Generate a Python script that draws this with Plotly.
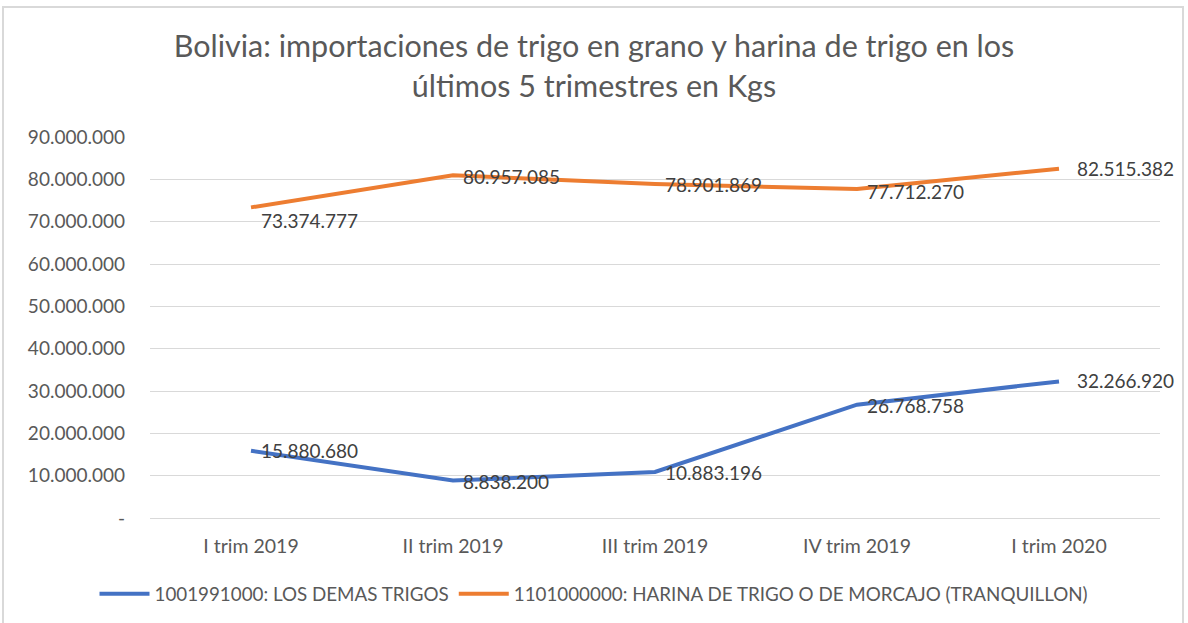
import plotly.graph_objects as go

categories = ["I trim 2019", "II trim 2019", "III trim 2019", "IV trim 2019", "I trim 2020"]
trigos = [15880680, 8838200, 10883196, 26768758, 32266920]
harina = [73374777, 80957085, 78901869, 77712270, 82515382]
series_names = ["1001991000: LOS DEMAS TRIGOS", "1101000000: HARINA DE TRIGO O DE MORCAJO (TRANQUILLON)"]
y_ticks = [0, 10000000, 20000000, 30000000, 40000000, 50000000, 60000000, 70000000, 80000000, 90000000]


def fmt(v):
    return f"{v:,}".replace(",", ".")


tick_text = ["-" if v == 0 else fmt(v) for v in y_ticks]
FONT = "Lato, 'Open Sans', sans-serif"
GRAY = "#595959"

fig = go.Figure()
fig.add_trace(go.Scatter(
    x=categories, y=trigos, name=series_names[0], mode="lines",
    line=dict(color="#4472C4", width=4),
))
fig.add_trace(go.Scatter(
    x=categories, y=harina, name=series_names[1], mode="lines",
    line=dict(color="#ED7D31", width=4),
))

# data labels
for series, yshifts in ((trigos, [0, -1, -1, -1, 1]), (harina, [-13, -1, -1, -2, 0])):
    for i, (c, v) in enumerate(zip(categories, series)):
        fig.add_annotation(x=c, y=v, text=fmt(v), showarrow=False,
                           xanchor="left", yanchor="middle",
                           xshift=16 if i == 4 else 8, yshift=yshifts[i],
                           font=dict(size=19, color="#404040", family=FONT))

L, R, T, B = 150, 28, 137, 105
W, H = 1188, 623
pw, ph = W - L - R, H - T - B

fig.update_layout(
    width=W, height=H,
    margin=dict(l=L, r=R, t=T, b=B),
    paper_bgcolor="white", plot_bgcolor="white",
    font=dict(family=FONT, color=GRAY, size=19),
    title=dict(text="Bolivia: importaciones de trigo en grano y harina de trigo en los<br>últimos 5 trimestres en Kgs",
               x=0.5, xref="container", xanchor="center", y=1 - 57 / H, yanchor="middle",
               font=dict(size=30.5, color=GRAY, family=FONT)),
    showlegend=True,
    legend=dict(orientation="h", x=0.5, xref="container", xanchor="center",
                y=1 - 594 / H, yref="container", yanchor="middle",
                font=dict(size=18.8, color=GRAY, family=FONT), itemwidth=50,
                traceorder="normal"),
    xaxis=dict(showgrid=False, showline=False, ticks="", tickfont=dict(size=19.5, color=GRAY),
               range=[-0.5, 4.5], ticklabelstandoff=14),
    yaxis=dict(range=[0, 90000000], tickvals=y_ticks, ticktext=tick_text,
               showgrid=True, gridcolor="#D9D9D9", gridwidth=1, zeroline=True,
               zerolinecolor="#D9D9D9", zerolinewidth=1, ticks="", ticklabelstandoff=24,
               tickfont=dict(size=19, color=GRAY)),
)

fig.add_shape(type="rect", xref="paper", yref="paper",
              x0=(3 - L) / pw, x1=(1183 - L) / pw,
              y0=(H - B - 625) / ph, y1=(H - B - 7) / ph,
              line=dict(color="#D9D9D9", width=2), fillcolor="rgba(0,0,0,0)", layer="below")

fig.write_html("out.html", config={"displayModeBar": False},
               post_script="document.body.style.margin='0';document.body.style.padding='0';")
